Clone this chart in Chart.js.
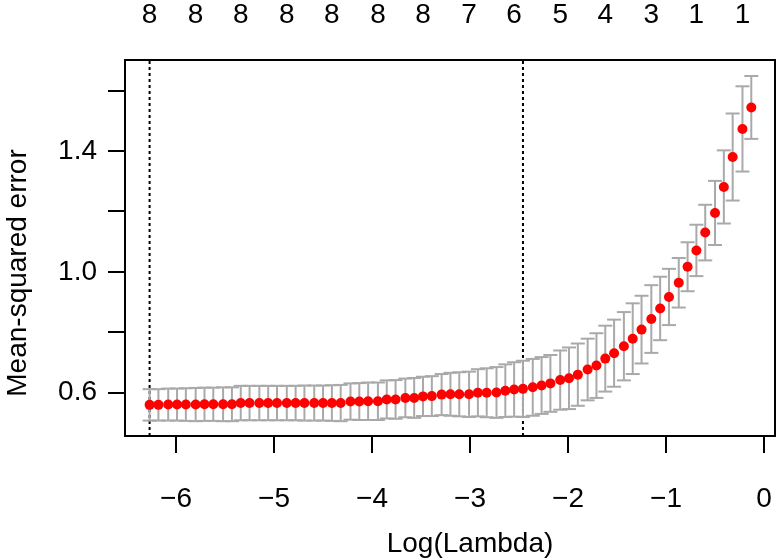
<!DOCTYPE html>
<html>
<head>
<meta charset="utf-8">
<script src="https://cdn.jsdelivr.net/npm/chart.js@4/dist/chart.umd.min.js"></script>
<style>
  body { margin: 0; background: #fff; }
  #wrap { width: 784px; height: 560px; }
</style>
</head>
<body>
<div id="wrap"><canvas id="cvPlot" width="784" height="560"></canvas></div>
<script>
// log(lambda) for each fit, largest lambda first (glmnet order)
const logLambda = [
  -0.13, -0.22, -0.32, -0.41, -0.50, -0.60, -0.69, -0.78, -0.87, -0.97,
  -1.06, -1.15, -1.25, -1.34, -1.43, -1.53, -1.62, -1.71, -1.80, -1.90,
  -1.99, -2.08, -2.18, -2.27, -2.36, -2.46, -2.55, -2.64, -2.73, -2.83,
  -2.92, -3.01, -3.11, -3.20, -3.29, -3.39, -3.48, -3.57, -3.66, -3.76,
  -3.85, -3.94, -4.04, -4.13, -4.22, -4.32, -4.41, -4.50, -4.59, -4.69,
  -4.78, -4.87, -4.97, -5.06, -5.15, -5.25, -5.34, -5.43, -5.52, -5.62,
  -5.71, -5.80, -5.90, -5.99, -6.08, -6.18, -6.27
];
// cross-validated mean-squared error
const cvm = [
  1.544, 1.473, 1.380, 1.281, 1.195, 1.130, 1.071, 1.017, 0.964, 0.917,
  0.879, 0.844, 0.809, 0.779, 0.754, 0.731, 0.713, 0.690, 0.677, 0.660,
  0.648, 0.642, 0.631, 0.624, 0.618, 0.613, 0.611, 0.607, 0.601, 0.600,
  0.600, 0.595, 0.595, 0.595, 0.594, 0.589, 0.588, 0.583, 0.583, 0.578,
  0.578, 0.572, 0.572, 0.571, 0.571, 0.566, 0.566, 0.566, 0.566, 0.566,
  0.566, 0.566, 0.566, 0.566, 0.566, 0.566, 0.566, 0.562, 0.562, 0.562,
  0.562, 0.561, 0.561, 0.561, 0.561, 0.560, 0.560
];
// standard error of the CV estimate
const cvsd = [
  0.104, 0.141, 0.144, 0.121, 0.106, 0.092, 0.085, 0.081, 0.082, 0.093,
  0.105, 0.112, 0.112, 0.117, 0.113, 0.111, 0.109, 0.107, 0.102, 0.103,
  0.102, 0.098, 0.094, 0.094, 0.094, 0.093, 0.090, 0.087, 0.084, 0.081,
  0.078, 0.075, 0.073, 0.071, 0.068, 0.066, 0.065, 0.066, 0.064, 0.064,
  0.063, 0.062, 0.062, 0.061, 0.060, 0.060, 0.059, 0.058, 0.058, 0.058,
  0.057, 0.057, 0.057, 0.057, 0.057, 0.057, 0.057, 0.056, 0.056, 0.055,
  0.055, 0.055, 0.054, 0.053, 0.053, 0.052, 0.052
];
const lambdaMin = -6.27;
const lambda1se = -2.46;

// number of nonzero coefficients (top axis)
const nzeroAt = [-0.22, -0.69, -1.15, -1.62, -2.08, -2.55, -3.01, -3.48, -3.94, -4.41, -4.87, -5.34, -5.80, -6.27];
const nzero = [1, 1, 3, 4, 5, 6, 7, 8, 8, 8, 8, 8, 8, 8];

const xTicks = [-6, -5, -4, -3, -2, -1, 0];
const yTicks = [0.6, 0.8, 1.0, 1.2, 1.4, 1.6];
const yTickLabels = ["0.6", "", "1.0", "", "1.4", ""];

const xMin = -6.521, xMax = 0.112;
const yMin = 0.457, yMax = 1.701;

const FONT = "'Liberation Sans', Arial, Helvetica, sans-serif";
const fontSize = 28;
const grey = "#A9A9A9";

const means = logLambda.map((x, i) => ({ x: x, y: cvm[i] }));
const caps = [];
const bars = [];
logLambda.forEach((x, i) => {
  caps.push({ x: x, y: cvm[i] + cvsd[i] });
  caps.push({ x: x, y: cvm[i] - cvsd[i] });
  bars.push({ x: x, y: cvm[i] - cvsd[i] });
  bars.push({ x: x, y: cvm[i] + cvsd[i] });
  bars.push({ x: x, y: null });
});

// R-style box round the plot region plus the two axis titles
const boxAndTitles = {
  id: "boxAndTitles",
  afterDraw(chart) {
    const ctx = chart.ctx;
    const a = chart.chartArea;
    ctx.save();
    ctx.strokeStyle = "#000";
    ctx.lineWidth = 2;
    ctx.strokeRect(a.left, a.top, a.right - a.left, a.bottom - a.top);
    ctx.fillStyle = "#000";
    ctx.font = fontSize + "px " + FONT;
    ctx.textAlign = "center";
    ctx.textBaseline = "alphabetic";
    ctx.fillText("Log(Lambda)", 470, 552);
    ctx.translate(26, 273);
    ctx.rotate(-Math.PI / 2);
    ctx.fillText("Mean-squared error", 0, 0);
    ctx.restore();
  }
};

const tickGrid = {
  drawOnChartArea: false,
  drawTicks: true,
  tickLength: 17,
  color: "#000",
  lineWidth: 2
};

function noPad(axis) {
  axis.paddingLeft = 0;
  axis.paddingRight = 0;
  axis.paddingTop = 0;
  axis.paddingBottom = 0;
}

new Chart(document.getElementById("cvPlot"), {
  type: "scatter",
  data: {
    datasets: [
      {
        label: "mean",
        data: means,
        pointRadius: 5,
        pointBackgroundColor: "#FF0000",
        pointBorderWidth: 0,
        showLine: false
      },
      {
        label: "caps",
        data: caps,
        pointStyle: "line",
        pointRadius: 7,
        pointBorderColor: grey,
        pointBorderWidth: 2,
        showLine: false
      },
      {
        type: "line",
        label: "bars",
        data: bars,
        borderColor: grey,
        borderWidth: 2,
        pointRadius: 0,
        spanGaps: false,
        tension: 0
      },
      {
        type: "line",
        label: "min",
        data: [{ x: lambdaMin, y: yMin }, { x: lambdaMin, y: yMax }],
        borderColor: "#000",
        borderWidth: 2,
        borderDash: [3, 3],
        pointRadius: 0
      },
      {
        type: "line",
        label: "1se",
        data: [{ x: lambda1se, y: yMin }, { x: lambda1se, y: yMax }],
        borderColor: "#000",
        borderWidth: 2,
        borderDash: [3, 3],
        pointRadius: 0
      }
    ]
  },
  options: {
    responsive: false,
    animation: false,
    devicePixelRatio: 1,
    layout: { padding: { left: 0, right: 7, top: 0, bottom: 0 } },
    plugins: {
      legend: { display: false },
      tooltip: { enabled: false }
    },
    scales: {
      x: {
        type: "linear",
        position: "bottom",
        min: xMin,
        max: xMax,
        afterBuildTicks: (axis) => { axis.ticks = xTicks.map(v => ({ value: v })); },
        afterFit: (axis) => { axis.height = 124; noPad(axis); },
        ticks: {
          autoSkip: false,
          maxRotation: 0,
          padding: 29,
          color: "#000",
          font: { family: FONT, size: fontSize },
          callback: (v) => (v < 0 ? "\u2212" + Math.abs(v) : String(v))
        },
        grid: tickGrid,
        border: { display: false }
      },
      x2: {
        type: "linear",
        position: "top",
        min: xMin,
        max: xMax,
        afterBuildTicks: (axis) => { axis.ticks = nzeroAt.map(v => ({ value: v })); },
        afterFit: (axis) => { axis.height = 60; noPad(axis); },
        ticks: {
          autoSkip: false,
          maxRotation: 0,
          padding: 28,
          color: "#000",
          font: { family: FONT, size: fontSize },
          callback: (v, i) => String(nzero[i])
        },
        grid: { display: false, drawTicks: false, tickLength: 0 },
        border: { display: false }
      },
      y: {
        type: "linear",
        position: "left",
        min: yMin,
        max: yMax,
        afterBuildTicks: (axis) => { axis.ticks = yTicks.map(v => ({ value: v })); },
        afterFit: (axis) => { axis.width = 125; noPad(axis); },
        ticks: {
          autoSkip: false,
          padding: 11,
          color: "#000",
          font: { family: FONT, size: fontSize },
          callback: (v, i) => yTickLabels[i]
        },
        grid: tickGrid,
        border: { display: false }
      }
    }
  },
  plugins: [boxAndTitles]
});
</script>
</body>
</html>
